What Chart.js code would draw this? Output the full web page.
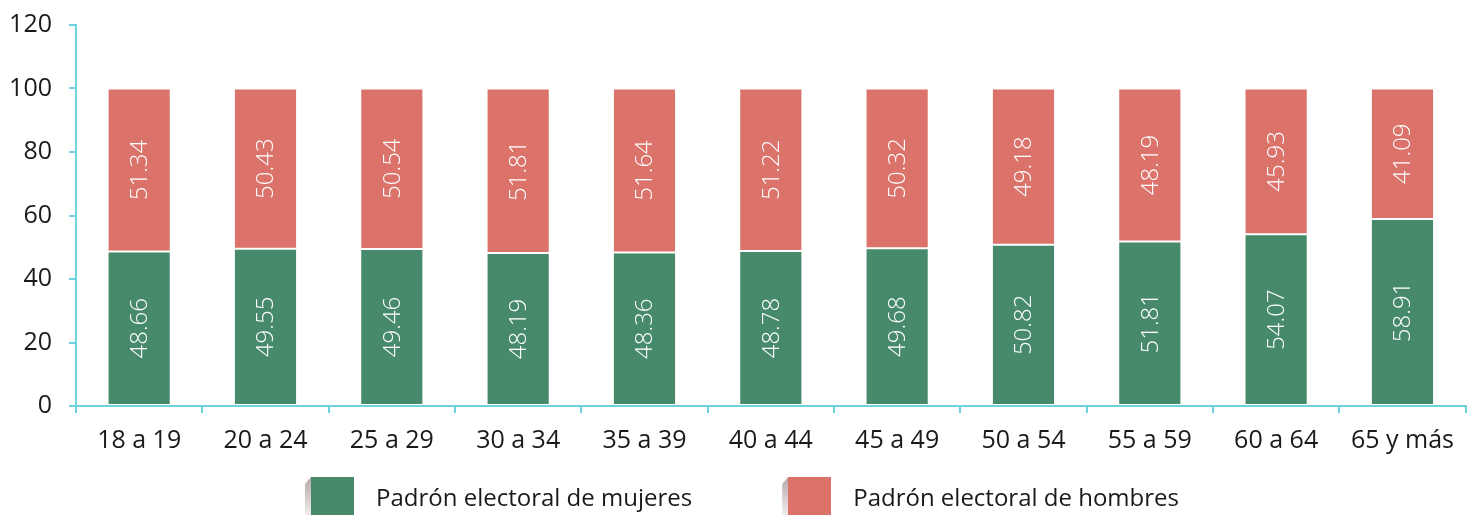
<!DOCTYPE html>
<html lang="es">
<head>
<meta charset="utf-8">
<title>Padrón electoral por sexo y grupo de edad</title>
<script src="https://cdn.jsdelivr.net/npm/chart.js@4"></script>
<style>
  html, body { margin: 0; padding: 0; background: #fff; }
  #wrap { width: 1467px; height: 515px; position: relative; }
  #legend {
    position: absolute; left: 0; top: 477px; width: 1467px; height: 38px;
    display: flex; justify-content: center; gap: 90px; padding-left: 17px; box-sizing: border-box;
    font-family: 'Open Sans', 'Noto Sans', sans-serif; font-size: 24px; color: #1a1a1a;
  }
  #legend .item { display: flex; align-items: center; }
  #legend .bevel {
    width: 6px; height: 38px;
    background: linear-gradient(#b7a7a7, #f1ecec);
    clip-path: polygon(100% 0, 0 7px, 0 100%, 100% 100%);
  }
  #legend .box { width: 43px; height: 38px; margin-right: 22px; }
</style>
</head>
<body>
<div id="wrap">
  <canvas id="padronChart"></canvas>
  <div id="legend"></div>
</div>
<script>
const grupos = ["18 a 19", "20 a 24", "25 a 29", "30 a 34", "35 a 39", "40 a 44", "45 a 49", "50 a 54", "55 a 59", "60 a 64", "65 y más"];
const mujeres = [48.66, 49.55, 49.46, 48.19, 48.36, 48.78, 49.68, 50.82, 51.81, 54.07, 58.91];
const hombres = [51.34, 50.43, 50.54, 51.81, 51.64, 51.22, 50.32, 49.18, 48.19, 45.93, 41.09];

const FONT = "'Open Sans', 'Noto Sans', sans-serif";
const AXIS = "#6cd3df";

// white vertical value labels in the middle of each segment
const barLabels = {
  id: "barLabels",
  afterDatasetsDraw(chart) {
    const ctx = chart.ctx;
    ctx.save();
    ctx.fillStyle = "#ffffff";
    ctx.font = "300 24px " + FONT;
    ctx.textAlign = "center";
    ctx.textBaseline = "middle";
    chart.data.datasets.forEach((ds, i) => {
      chart.getDatasetMeta(i).data.forEach((bar, j) => {
        const cy = (bar.y + bar.base) / 2;
        ctx.save();
        ctx.translate(bar.x, cy);
        ctx.rotate(-Math.PI / 2);
        ctx.fillText(ds.data[j].toFixed(2), 0, 1);
        ctx.restore();
      });
    });
    ctx.restore();
  }
};

// legend built as html under the plot, from the chart's own legend items
const htmlLegend = {
  id: "htmlLegend",
  afterUpdate(chart) {
    const el = document.getElementById("legend");
    el.innerHTML = "";
    const items = chart.options.plugins.legend.labels.generateLabels(chart);
    items.forEach(it => {
      const item = document.createElement("div");
      item.className = "item";
      const bevel = document.createElement("span");
      bevel.className = "bevel";
      const box = document.createElement("span");
      box.className = "box";
      box.style.background = it.fillStyle;
      const txt = document.createElement("span");
      txt.textContent = it.text;
      item.append(bevel, box, txt);
      el.appendChild(item);
    });
  }
};

const barStyle = {
  borderColor: "rgba(255,255,255,0.45)",
  borderWidth: 1,
  borderSkipped: false,
  barPercentage: 0.5,
  categoryPercentage: 1
};

new Chart(document.getElementById("padronChart"), {
  type: "bar",
  data: {
    labels: grupos,
    datasets: [
      Object.assign({ label: "Padrón electoral de mujeres", data: mujeres, backgroundColor: "#468a6b" }, barStyle),
      Object.assign({ label: "Padrón electoral de hombres", data: hombres, backgroundColor: "#db736b" }, barStyle)
    ]
  },
  options: {
    responsive: true,
    maintainAspectRatio: false,
    animation: false,
    layout: { padding: { top: 25, right: 0, left: 0, bottom: 54 } },
    plugins: {
      tooltip: { enabled: false },
      legend: { display: false }
    },
    scales: {
      x: {
        stacked: true,
        border: { color: AXIS, width: 2 },
        grid: { display: true, drawOnChartArea: false, drawTicks: true, tickLength: 7, color: AXIS, lineWidth: 2 },
        ticks: { color: "#1a1a1a", padding: 13, font: { family: FONT, size: 25 } },
        afterFit(s) { s.height = 55; }
      },
      y: {
        stacked: true,
        min: 0,
        max: 120,
        border: { color: AXIS, width: 2 },
        grid: { display: true, drawOnChartArea: false, drawTicks: true, tickLength: 7, color: AXIS, lineWidth: 2 },
        ticks: { stepSize: 20, color: "#1a1a1a", padding: 17, font: { family: FONT, size: 25 } },
        afterFit(s) { s.width = 76; s.paddingTop = 0; s.paddingBottom = 0; }
      }
    }
  },
  plugins: [barLabels, htmlLegend]
});
</script>
</body>
</html>
